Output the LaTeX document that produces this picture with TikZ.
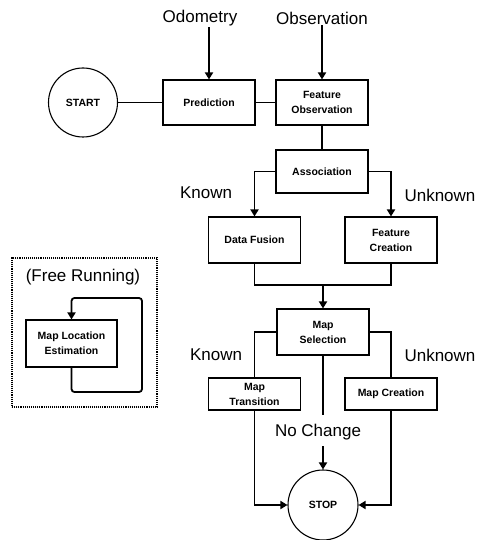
\documentclass[tikz,border=0pt]{standalone}
\usepackage{fontspec}
\setmainfont{Liberation Sans}
\usetikzlibrary{arrows.meta}
\tikzset{
  box/.style={draw,line width=1.1pt,minimum width=92pt,inner sep=1pt,align=center,
    font=\fontsize{10.5}{15}\selectfont\bfseries},
  term/.style={draw,circle,line width=1.1pt,minimum size=69pt,inner sep=0pt,
    font=\fontsize{10.5}{12}\selectfont\bfseries},
  biglabel/.style={inner sep=1pt,font=\fontsize{17}{20}\selectfont},
  conn/.style={line width=1.8pt},
  arr/.style={conn,-{Triangle[length=7pt,width=8pt]}},
}
\begin{document}
\begin{tikzpicture}[x=1pt,y=-1pt]
\useasboundingbox (0,0) rectangle (477,540);
% top labels
\node[biglabel] (odo) at (200,18) {Odometry};
\node[biglabel] (obs) at (322,18) {Observation};
% top row
\node[term] (start) at (83,102.5) {START};
\node[box,minimum height=45pt] (pred) at (209,102.5) {Prediction};
\node[box,minimum height=45pt] (fobs) at (322,102.5) {Feature\\Observation};
\node[box,minimum height=43pt] (assoc) at (322,171.5) {Association};
\node[box,minimum height=46pt] (dfus) at (254.5,240) {Data Fusion};
\node[box,minimum height=46pt] (fcre) at (391,240) {Feature\\Creation};
\node[box,minimum height=46pt] (msel) at (323,332) {Map\\Selection};
\node[box,minimum height=32pt] (mtra) at (254.5,394) {Map\\Transition};
\node[box,minimum height=32pt] (mcre) at (391,394) {Map Creation};
\node[term,minimum size=70pt] (stop) at (323,505) {STOP};
% branch labels
\node[biglabel] (k1) at (206,193) {Known};
\node[biglabel] (u1) at (440,195) {Unknown};
\node[biglabel] (k2) at (216,355) {Known};
\node[biglabel] (u2) at (440,355) {Unknown};
\node[biglabel] (nc) at (318,432) {No Change};
% free running
\node[draw,densely dotted,line width=1.1pt,minimum width=145pt,minimum height=149pt] (frame) at (84.5,332.5) {};
\node[biglabel] (fr) at (83,277) {(Free Running)};
\node[box,minimum width=91pt,minimum height=47pt] (mle) at (71.5,343.5) {Map Location\\Estimation};
\coordinate (lpA) at (142,392);
\coordinate (lpB) at (71.5,298);
\coordinate (merge) at (323,285);
\coordinate (nctop) at (323,415);
% connectors
\draw[arr] (odo.south -| pred.north) -- (pred.north);
\draw[arr] (obs.south) -- (fobs.north);
\draw[conn] (start.east) -- (pred.west);
\draw[conn] (pred.east) -- (fobs.west);
\draw[conn] (fobs.south) -- (assoc.north);
\draw[arr] (assoc.west) -| (dfus.north);
\draw[arr] (assoc.east) -| (fcre.north);
\draw[conn] (dfus.south) |- (merge) -| (fcre.south);
\draw[arr] (merge) -- (msel.north);
\draw[conn] (msel.west) -| (mtra.north);
\draw[conn] (msel.east) -| (mcre.north);
\draw[conn] (msel.south) -- (nctop);
\draw[arr] ([yshift=-5pt]nc.south -| stop.north) -- (stop.north);
\draw[arr] (mtra.south) |- (stop.west);
\draw[arr] (mcre.south) |- (stop.east);
\draw[arr,rounded corners=3pt] (mle.south) |- (lpA) |- (lpB) -- (mle.north);
\end{tikzpicture}
\end{document}
